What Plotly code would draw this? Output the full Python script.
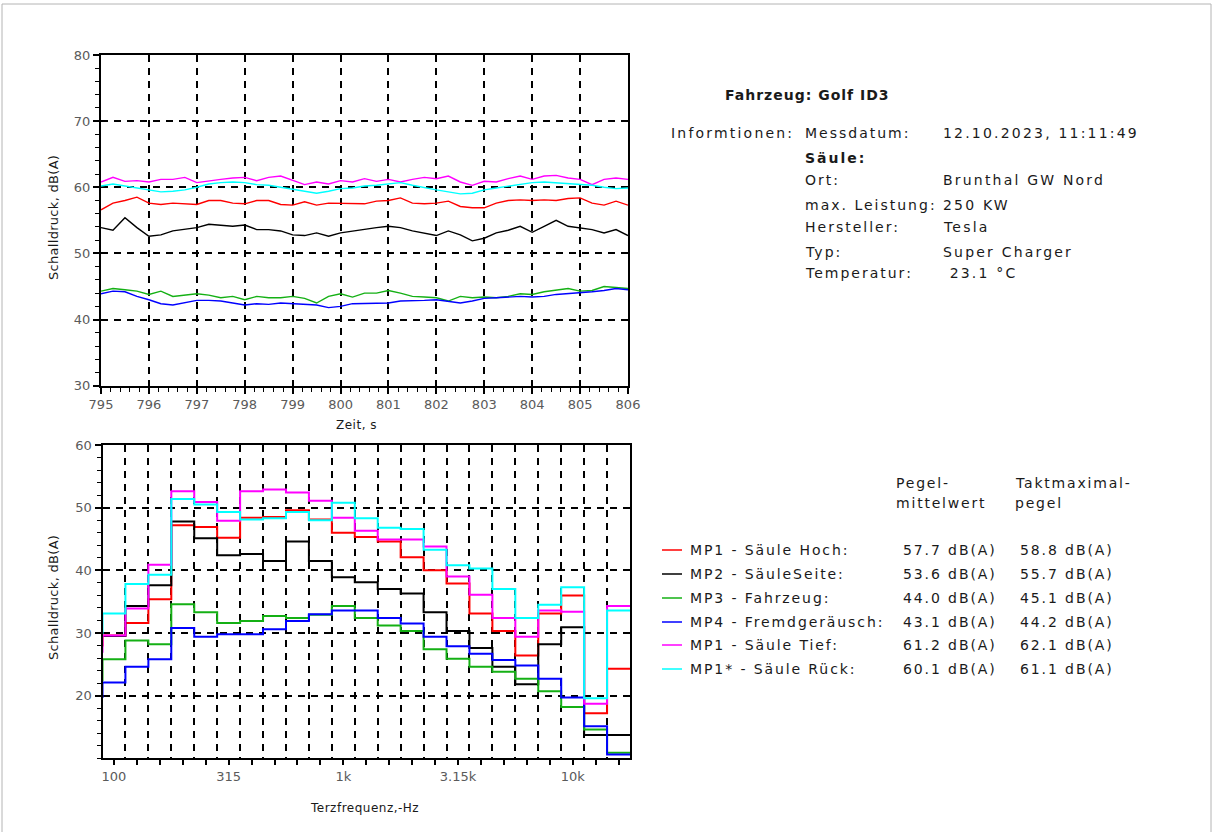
import plotly.graph_objects as go

W, H = 1215, 832

# ---------------- data: time history (top chart) ----------------
time_s = [795 + 0.25 * i for i in range(45)]

mp1_hoch = [56.6, 57.6, 58.0, 58.5, 57.6, 57.4, 57.6, 57.5, 57.4, 58.0, 58.0, 57.6, 57.5, 58.0, 58.0, 57.4,
            57.3, 57.8, 57.3, 57.6, 57.6, 57.5,
            57.5, 57.9, 58.0, 58.4, 57.6, 57.5, 57.6, 57.9, 57.1, 56.9, 56.9, 57.6, 58.0, 58.1, 58.0, 58.1,
            58.0, 58.3, 58.4, 57.6, 57.3, 57.9, 57.3]
mp2_seite = [53.9, 53.5, 55.4, 53.9, 52.6, 52.8, 53.4, 53.6, 53.9, 54.4, 54.3, 54.1, 54.3, 53.6, 53.6, 53.4,
             52.8, 52.7, 53.1, 52.6, 53.1, 53.4,
             53.6, 53.9, 54.1, 53.9, 53.4, 53.1, 52.7, 53.4, 52.8, 51.9, 52.3, 53.1, 53.5, 54.1, 53.2, 54.1,
             55.0, 54.1, 53.9, 53.6, 53.1, 53.6, 52.7]
mp3_fahrzeug = [44.3, 44.7, 44.5, 44.3, 43.8, 44.3, 43.5, 43.7, 43.9, 43.7, 43.3, 43.5, 43.0, 43.5, 43.3, 43.3,
                43.5, 43.2, 42.5, 43.5, 43.9, 43.4,
                44.0, 44.0, 44.4, 44.0, 43.5, 43.4, 43.3, 42.8, 43.5, 43.3, 43.4, 43.3, 43.5, 43.9, 43.8, 44.2,
                44.5, 44.7, 44.3, 44.4, 45.0, 44.9, 44.7]
mp4_fremd = [43.9, 44.3, 44.2, 43.5, 43.0, 42.4, 42.2, 42.5, 42.9, 42.9, 42.8, 42.5, 42.2, 42.4, 42.3, 42.5,
             42.4, 42.3, 42.2, 41.8, 42.0, 42.4,
             42.4, 42.5, 42.5, 42.8, 42.8, 42.9, 43.0, 42.7, 42.5, 42.8, 43.2, 43.3, 43.4, 43.5, 43.4, 43.5,
             43.8, 43.9, 44.0, 44.2, 44.4, 44.7, 44.5]
mp1_tief = [60.8, 61.5, 60.9, 61.0, 60.8, 61.2, 61.2, 61.5, 60.7, 61.0, 61.2, 61.4, 61.5, 61.0, 61.5, 61.7,
            61.0, 60.4, 60.8, 60.5, 61.0, 60.8,
            61.3, 60.9, 61.2, 60.8, 61.2, 61.5, 61.3, 61.7, 60.8, 60.3, 60.9, 60.8, 61.3, 61.7, 61.2, 61.7,
            61.8, 61.4, 61.2, 60.4, 61.2, 61.4, 61.2]
mp1s_rueck = [60.2, 60.5, 60.2, 59.9, 59.5, 59.3, 59.4, 59.6, 60.0, 60.5, 60.7, 60.8, 60.7, 60.4, 60.3, 60.0,
              59.8, 59.5, 59.1, 59.4, 59.8, 59.9,
              60.2, 60.3, 60.5, 60.7, 60.3, 59.9, 59.6, 59.3, 59.0, 59.1, 59.6, 59.9, 60.2, 60.4, 60.7, 60.8,
              60.7, 60.5, 60.5, 60.3, 60.0, 59.8, 59.9]

# ---------------- data: third-octave spectrum (bottom chart) ----------------
bands = ["80", "100", "125", "160", "200", "250", "315", "400", "500", "630", "800", "1k",
         "1.25k", "1.6k", "2k", "2.5k", "3.15k", "4k", "5k", "6.3k", "8k", "10k", "12.5k", "16k"]
band_labels_shown = ["100", "315", "1k", "3.15k", "10k"]

spec_hoch = [28.0, 29.6, 31.6, 35.4, 47.2, 46.9, 45.2, 48.4, 48.5, 49.6, 48.1, 46.0,
             45.3, 44.6, 42.1, 40.0, 37.9, 33.1, 30.3, 26.4, 33.1, 36.0, 17.2, 24.3]
spec_seite = [29.5, 29.5, 34.3, 37.6, 47.8, 45.1, 42.4, 42.6, 41.5, 44.6, 41.5, 38.9,
              38.1, 37.0, 36.3, 33.3, 30.3, 27.6, 24.6, 21.8, 28.2, 30.9, 13.7, 13.7]
spec_fahrzeug = [22.5, 25.8, 28.8, 28.2, 34.6, 33.3, 31.6, 31.9, 32.7, 32.4, 32.9, 34.3,
                 32.4, 31.2, 30.3, 27.4, 25.9, 24.6, 23.8, 22.7, 20.7, 18.2, 14.6, 10.9]
spec_fremd = [19.8, 22.1, 24.6, 25.8, 30.8, 29.4, 29.8, 29.8, 30.6, 31.9, 33.0, 33.6,
              33.6, 32.4, 31.5, 29.4, 27.9, 26.7, 25.7, 24.8, 22.7, 19.7, 15.1, 10.6]
spec_tief = [27.0, 29.6, 33.9, 40.9, 52.6, 50.9, 47.9, 52.6, 52.9, 52.4, 51.1, 48.4,
             46.3, 44.9, 44.9, 43.8, 39.0, 36.1, 32.4, 29.4, 33.6, 33.4, 18.7, 34.3]
spec_rueck = [30.0, 33.1, 37.8, 39.3, 51.4, 50.5, 49.3, 48.1, 48.3, 49.3, 48.0, 50.8,
              48.3, 46.8, 46.6, 43.3, 40.8, 40.3, 37.0, 32.4, 34.5, 37.3, 19.6, 33.6]

# ---------------- legend table ----------------
series_names = ["MP1 - Säule Hoch:", "MP2 - SäuleSeite:", "MP3 - Fahrzeug:",
                "MP4 - Fremdgeräusch:", "MP1 - Säule Tief:", "MP1* - Säule Rück:"]
series_colors = ["#ff0000", "#000000", "#14b014", "#0000ff", "#ff00ff", "#00ffff"]
pegel_mittel = ["57.7 dB(A)", "53.6 dB(A)", "44.0 dB(A)", "43.1 dB(A)", "61.2 dB(A)", "60.1 dB(A)"]
takt_max = ["58.8 dB(A)", "55.7 dB(A)", "45.1 dB(A)", "44.2 dB(A)", "62.1 dB(A)", "61.1 dB(A)"]

info_labels = ["Messdatum:", "<b>Säule:</b>", "Ort:", "max. Leistung:", "Hersteller:", "Typ:", "Temperatur:"]
info_values = ["12.10.2023, 11:11:49", "", "Brunthal GW Nord", "250 KW", "Tesla", "Super Charger", " 23.1 °C"]

top_series = [mp1_hoch, mp2_seite, mp3_fahrzeug, mp4_fremd, mp1_tief, mp1s_rueck]
spec_series = [spec_hoch, spec_seite, spec_fahrzeug, spec_fremd, spec_tief, spec_rueck]

FONT = "DejaVu Sans"
TXT = "#1a1a1a"
TICKC = "#5a5a5a"
GRID_DASH = "7px,6px"


def px(x):
    return x / W


def py(y):
    return 1 - y / H


fig = go.Figure()

for vals, col in zip(top_series, series_colors):
    fig.add_trace(go.Scatter(x=time_s, y=vals, xaxis="x", yaxis="y", mode="lines",
                             line=dict(color=col, width=1.4), showlegend=False, hoverinfo="skip"))

band_pos = list(range(-1, len(bands) - 1))      # 80 Hz band sits just left of the visible range
edges = [p - 0.5 for p in band_pos] + [band_pos[-1] + 0.5]
for vals, col in zip(spec_series, series_colors):
    fig.add_trace(go.Scatter(x=edges, y=vals + [vals[-1]], xaxis="x2", yaxis="y2", mode="lines",
                             line=dict(color=col, width=2, shape="hv"), showlegend=False, hoverinfo="skip"))

tickfont = dict(family=FONT, size=13, color=TICKC)
common = dict(showline=True, linecolor="black", linewidth=2, mirror=True, zeroline=False,
              ticks="outside", tickcolor="black", tickwidth=1.5, tickfont=tickfont,
              gridcolor="black", gridwidth=1.5, griddash=GRID_DASH, automargin=False)

fig.update_layout(
    width=W, height=H, margin=dict(l=0, r=0, t=0, b=0, pad=0, autoexpand=False),
    paper_bgcolor="white", plot_bgcolor="white",
    xaxis=dict(domain=[px(101), px(628)], anchor="y", range=[795, 806], tick0=795, dtick=1,
               showgrid=True, ticklen=6,
               minor=dict(dtick=0.2, tick0=795, ticks="outside", ticklen=4, tickcolor="black",
                          tickwidth=1, showgrid=False), **common),
    yaxis=dict(domain=[py(385.7), py(55)], anchor="x", range=[30, 80], tick0=30, dtick=10,
               showgrid=True, ticklen=6,
               minor=dict(dtick=2, tick0=30, ticks="outside", ticklen=4, tickcolor="black",
                          tickwidth=1, showgrid=False), **common),
    xaxis2=dict(domain=[px(102.5), px(630)], anchor="y2", range=[-0.5, len(bands) - 1.5],
                tickmode="array", tickvals=band_pos[1:],
                ticktext=[b if b in band_labels_shown else "" for b in bands[1:]],
                showgrid=False, ticklen=5,
                minor=dict(tickmode="array", tickvals=[e for e in edges[1:]], ticks="",
                           showgrid=True, gridcolor="black", gridwidth=1.5, griddash=GRID_DASH),
                **common),
    yaxis2=dict(domain=[py(758.3), py(445)], anchor="x2", range=[10, 60],
                tickmode="array", tickvals=[20, 30, 40, 50, 60], showgrid=True, ticklen=6,
                minor=dict(dtick=2, tick0=10, ticks="outside", ticklen=4, tickcolor="black",
                           tickwidth=1, showgrid=False), **common),
)

ann = []


def text(x, y, s, size=14, bold=False, spacing=2.0, color=TXT, anchor="left", angle=0):
    if bold:
        s = "<b>" + s + "</b>"
    if spacing:
        s = '<span style="letter-spacing:%.1fpx">%s</span>' % (spacing, s)
    ann.append(dict(x=px(x), y=py(y), xref="paper", yref="paper", text=s, showarrow=False,
                    xanchor=anchor, yanchor="middle", textangle=angle,
                    font=dict(family=FONT, size=size, color=color)))


# axis titles
text(53, 218, "Schalldruck, dB(A)", size=13, spacing=0.3, anchor="center", angle=-90)
text(53, 598, "Schalldruck, dB(A)", size=13, spacing=0.3, anchor="center", angle=-90)
text(356, 425, "Zeit, s", size=12, spacing=0.5, anchor="center")
text(364, 808, "Terzfrequenz,-Hz", size=12, spacing=0.5, anchor="center")

# info block
text(723, 95, "Fahrzeug: Golf ID3", size=14, bold=True, spacing=1.0)
text(669, 133, "Informtionen:", spacing=2.2)
info_y = [133, 158, 180, 205, 227, 252, 273]
for lab, val, yy in zip(info_labels, info_values, info_y):
    text(803, yy, lab, spacing=2.0)
    if val:
        text(941, yy, val, spacing=2.2)

# legend table
text(894, 483, "Pegel-", spacing=1.8)
text(894, 503, "mittelwert", spacing=1.8)
text(1013, 483, "Taktmaximal-", spacing=1.8)
text(1013, 503, "pegel", spacing=1.8)
row_y = [550, 574, 598, 622, 645, 669]
shapes = []
for name, col, m, t, yy in zip(series_names, series_colors, pegel_mittel, takt_max, row_y):
    shapes.append(dict(type="line", xref="paper", yref="paper", x0=px(662), x1=px(682),
                       y0=py(yy), y1=py(yy), line=dict(color=col, width=1.5)))
    text(688, yy, name, spacing=1.9)
    text(901, yy, m, spacing=1.9)
    text(1018, yy, t, spacing=1.9)

# page frame
shapes.append(dict(type="rect", xref="paper", yref="paper", x0=px(2), x1=px(1211), y0=-0.05,
                   y1=py(4), line=dict(color="#b4b4b4", width=1), layer="below"))

fig.update_layout(annotations=ann, shapes=shapes)
fig.write_html("out.html")
